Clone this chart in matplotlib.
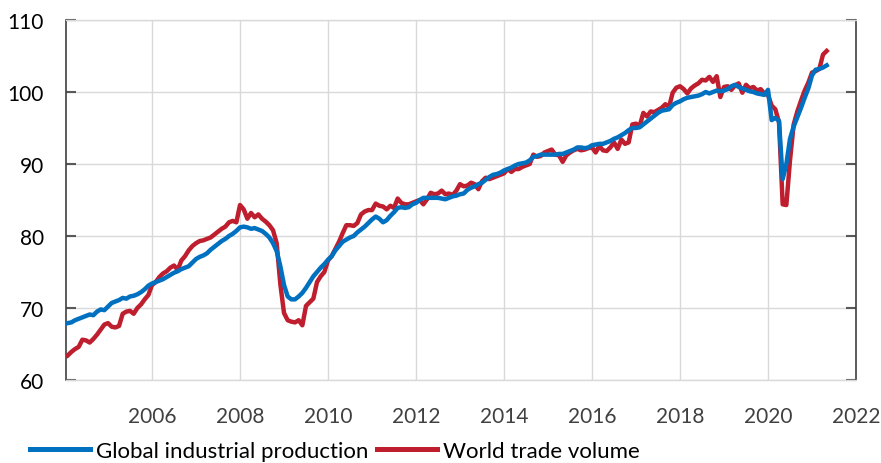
import matplotlib
matplotlib.use("Agg")
from matplotlib import pyplot as plt
import pandas as pd

plt.rcParams["font.family"] = ["Lato", "DejaVu Sans"]

# monthly, Jan 2004 - Apr 2021
months = pd.date_range("2004-01-31", "2021-04-30", freq="ME")

industrial_production = [
    67.9, 68.0, 68.3, 68.5, 68.7, 68.9, 69.1, 69.0, 69.5, 69.8, 69.7, 70.2,
    70.7, 70.9, 71.1, 71.4, 71.3, 71.6, 71.7, 71.9, 72.2, 72.6, 73.1, 73.4,
    73.6, 73.8, 74.0, 74.3, 74.6, 74.9, 75.1, 75.4, 75.6, 75.8, 76.3, 76.8,
    77.1, 77.3, 77.6, 78.1, 78.5, 78.9, 79.3, 79.6, 80.0, 80.3, 80.7, 81.2,
    81.3, 81.2, 81.0, 81.1, 80.9, 80.7, 80.3, 79.8, 79.0, 77.9, 75.8, 73.2,
    71.6, 71.2, 71.2, 71.6, 72.1, 72.8, 73.6, 74.4, 75.0, 75.6, 76.1, 76.7,
    77.2, 78.0, 78.6, 79.2, 79.5, 79.8, 80.0, 80.5, 80.9, 81.3, 81.8, 82.3,
    82.7, 82.4, 81.9, 82.2, 82.8, 83.3, 83.9, 84.0, 83.9, 84.0, 84.4, 84.6,
    85.0, 85.3, 85.3, 85.3, 85.3, 85.3, 85.2, 85.1, 85.3, 85.5, 85.6, 85.8,
    85.9, 86.4, 86.7, 86.9, 87.2, 87.4, 87.8, 88.2, 88.5, 88.6, 88.8, 89.1,
    89.3, 89.5, 89.8, 90.0, 90.1, 90.2, 90.5, 91.0, 91.1, 91.3, 91.3, 91.3,
    91.3, 91.3, 91.4, 91.4, 91.6, 91.8, 92.0, 92.3, 92.3, 92.2, 92.3, 92.6,
    92.7, 92.8, 92.8, 93.0, 93.2, 93.5, 93.7, 94.0, 94.3, 94.7, 95.0, 95.0,
    95.1, 95.5, 95.9, 96.3, 96.7, 97.1, 97.4, 97.5, 97.6, 98.2, 98.5, 98.7,
    99.0, 99.2, 99.3, 99.4, 99.5, 99.7, 100.0, 99.8, 100.0, 100.2, 100.1, 100.2,
    100.4, 100.8, 101.0, 100.7, 100.5, 100.3, 100.1, 100.0, 99.8, 99.7, 99.6, 100.3,
    96.1, 96.4, 96.0, 87.9, 90.0, 93.5, 95.2, 96.5, 97.8, 99.2, 100.5, 102.3,
    103.1, 103.2, 103.4, 103.7,
]

trade_volume = [
    63.4, 63.9, 64.3, 64.6, 65.6, 65.5, 65.2, 65.7, 66.3, 67.0, 67.7, 67.9,
    67.4, 67.3, 67.5, 69.2, 69.5, 69.6, 69.2, 70.0, 70.5, 71.2, 71.8, 73.2,
    73.6, 74.3, 74.8, 75.1, 75.6, 75.9, 75.3, 76.6, 77.2, 78.0, 78.6, 79.0,
    79.3, 79.4, 79.6, 79.8, 80.2, 80.6, 81.0, 81.3, 81.9, 82.1, 81.9, 84.3,
    83.7, 82.4, 83.2, 82.6, 83.0, 82.4, 82.0, 81.5, 80.8, 79.0, 73.3, 69.3,
    68.3, 68.1, 68.0, 68.3, 67.6, 70.3, 70.8, 71.3, 73.6, 74.4, 75.0, 76.6,
    77.2, 78.2, 79.2, 80.4, 81.5, 81.5, 81.4, 81.8, 83.0, 83.4, 83.6, 83.6,
    84.5, 84.2, 84.1, 83.7, 84.2, 83.9, 85.2, 84.6, 84.4, 84.4, 84.6, 84.8,
    85.0, 84.4, 85.1, 86.0, 85.8, 85.9, 86.3, 85.8, 85.9, 85.7, 86.3, 87.2,
    86.9, 87.0, 87.4, 87.2, 86.5, 87.6, 88.1, 87.9, 88.1, 88.3, 88.5, 88.7,
    89.3, 88.9, 89.3, 89.3, 89.6, 89.8, 90.0, 91.3, 91.0, 91.1, 91.6, 91.8,
    92.0, 91.3, 91.2, 90.3, 91.2, 91.6, 91.9, 92.1, 91.9, 92.0, 92.2, 92.3,
    91.6, 92.5, 91.9, 91.8, 92.3, 93.0, 92.1, 93.4, 92.8, 93.0, 95.5, 95.6,
    95.3, 97.1, 96.6, 97.3, 97.2, 97.5, 97.8, 98.3, 97.9, 99.9, 100.6, 100.8,
    100.4, 99.8, 100.5, 100.9, 101.2, 101.7, 101.6, 102.1, 101.4, 102.2, 99.3, 100.7,
    100.8, 100.3, 100.9, 101.2, 99.9, 101.0, 100.5, 100.7, 100.2, 100.4, 99.8, 99.6,
    98.1, 97.6, 95.8, 84.4, 84.3, 90.5, 95.5, 97.3, 98.8, 100.2, 101.3, 102.7,
    102.9, 103.2, 105.2, 105.7,
]

year_ticks = [2006, 2008, 2010, 2012, 2014, 2016, 2018, 2020, 2022]
value_ticks = [60, 70, 80, 90, 100, 110]
labels = ["Global industrial production", "World trade volume"]

x = months.year + months.month / 12

fig = plt.figure(figsize=(8.81, 4.64), dpi=100)
ax = fig.add_axes([66 / 881, 1 - 381 / 464, 790 / 881, 360 / 464])

red_line, = ax.plot(x, trade_volume, color="#BE1E2D", lw=3.2,
                    solid_joinstyle="round", zorder=3)
blue_line, = ax.plot(x, industrial_production, color="#0070C0", lw=3.2,
                     solid_joinstyle="round", zorder=4)

ax.set_xlim(2004.045, 2022)
ax.set_ylim(60, 110)
ax.set_xticks(year_ticks)
ax.set_yticks(value_ticks)
ax.grid(True, color="#D9D9D9", lw=1.0)
ax.set_axisbelow(True)

ax.tick_params(axis="x", length=0, pad=19, labelsize=15, labelcolor="#404040")
ax.tick_params(axis="y", direction="in", length=7.5, width=1.5, color="#595959",
               left=True, right=True, labelsize=15, pad=16)
for side in ["left", "right"]:
    ax.spines[side].set_color("#404040")
    ax.spines[side].set_linewidth(1.2)
for side in ["top", "bottom"]:
    ax.spines[side].set_color("#D9D9D9")
    ax.spines[side].set_linewidth(1.0)

# legend sits at the very bottom edge, kept just inside the canvas
leg = fig.legend(handles=[blue_line, red_line], labels=labels, loc="center left",
                 bbox_to_anchor=(30 / 881, 1 - 452 / 464), ncol=2, frameon=False,
                 fontsize=16, handlelength=2.7, handletextpad=0.28,
                 columnspacing=0.36, borderpad=0, borderaxespad=0)
for handle in leg.get_lines():
    handle.set_linewidth(3.6)

fig.savefig("out.png", dpi=100)
